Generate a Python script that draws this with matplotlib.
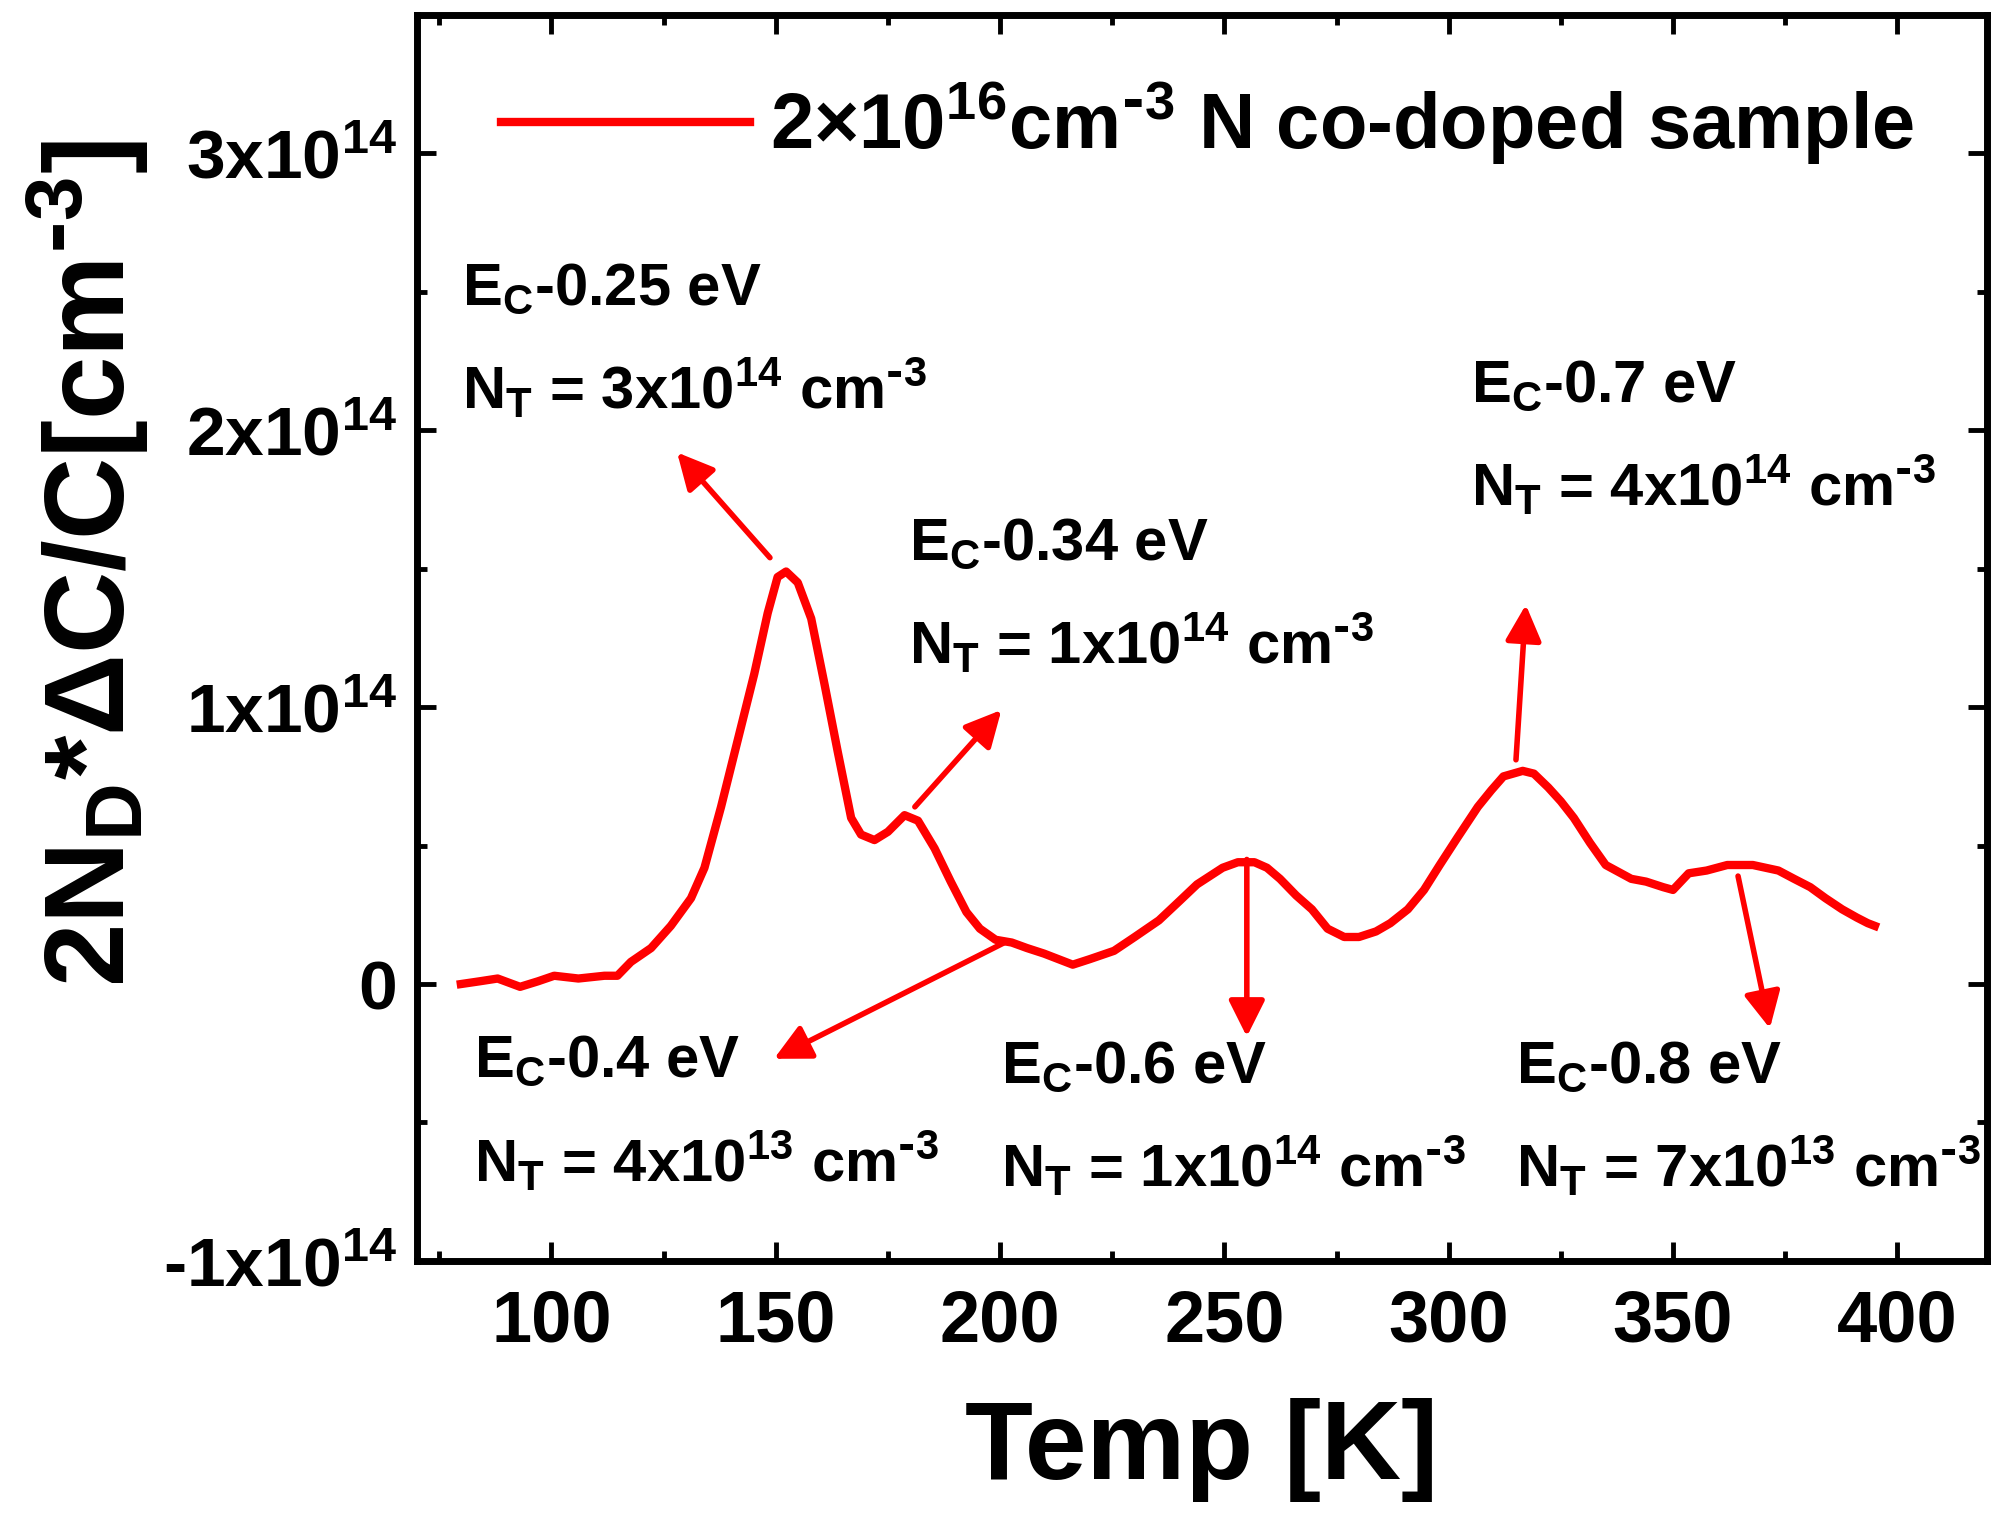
import numpy as np
import matplotlib
matplotlib.use('Agg')
import matplotlib.pyplot as plt
from matplotlib.ticker import MultipleLocator, FuncFormatter

plt.rcParams['font.family'] = ['Liberation Sans', 'DejaVu Sans']
plt.rcParams['font.weight'] = 'bold'
plt.rcParams['mathtext.default'] = 'regular'

# DLTS signal (temperature in K, signal in units of 1e14 cm^-3)
temp_K = [79.8, 84, 88, 93, 97, 100.6, 106, 111.8, 114.7, 117.7, 122.2, 126.6, 131.1,
          134.1, 137.8, 141.5, 145.2, 148.2, 150.4, 152.3, 154.9, 157.9, 160.9, 163.8,
          166.8, 169, 172, 175, 178.7, 181.7, 185.4, 189, 192.5, 195.5, 199, 202.6,
          206, 209.8, 213, 216.2, 220, 225.4, 230, 235.4, 240, 243.9, 249.6, 253,
          256.7, 259.5, 262.4, 266, 269.5, 273, 276.7, 280, 283.8, 287, 290.9, 294.5,
          298, 302, 306.5, 309.5, 312.2, 316.5, 319, 322.2, 325, 327.9, 331.5, 335,
          340.7, 344, 347.8, 350, 353.5, 357.5, 362.1, 367.8, 373.5, 377, 380.6, 384,
          387.7, 391, 393.4, 395]
signal_1e14 = [0.0, 0.01, 0.02, -0.01, 0.01, 0.03, 0.02, 0.03, 0.03, 0.08, 0.13, 0.21,
               0.31, 0.42, 0.64, 0.88, 1.12, 1.34, 1.47, 1.49, 1.45, 1.32, 1.08, 0.84,
               0.60, 0.54, 0.52, 0.55, 0.61, 0.59, 0.49, 0.37, 0.26, 0.20, 0.16, 0.15,
               0.13, 0.11, 0.09, 0.07, 0.09, 0.12, 0.17, 0.23, 0.30, 0.36, 0.42, 0.44,
               0.44, 0.42, 0.38, 0.32, 0.27, 0.20, 0.17, 0.17, 0.19, 0.22, 0.27, 0.34,
               0.43, 0.53, 0.64, 0.70, 0.75, 0.77, 0.76, 0.71, 0.66, 0.60, 0.51, 0.43,
               0.38, 0.37, 0.35, 0.34, 0.40, 0.41, 0.43, 0.43, 0.41, 0.38, 0.35, 0.31,
               0.27, 0.24, 0.22, 0.21]

legend_label = r'2×10$^{16}$cm$^{\text{-}3}$ N co-doped sample'

# trap labels: energy level and trap concentration
trap_level = ['E$_{C}$-0.25 eV', 'E$_{C}$-0.34 eV', 'E$_{C}$-0.4 eV',
              'E$_{C}$-0.6 eV', 'E$_{C}$-0.7 eV', 'E$_{C}$-0.8 eV']
trap_conc = [r'N$_{T}$ = 3x10$^{14}$ cm$^{\text{-}3}$', r'N$_{T}$ = 1x10$^{14}$ cm$^{\text{-}3}$',
             r'N$_{T}$ = 4x10$^{13}$ cm$^{\text{-}3}$', r'N$_{T}$ = 1x10$^{14}$ cm$^{\text{-}3}$',
             r'N$_{T}$ = 4x10$^{14}$ cm$^{\text{-}3}$', r'N$_{T}$ = 7x10$^{13}$ cm$^{\text{-}3}$']
# text anchor (x, y of first line), arrow tail and head, in data units (y in 1e14)
label_xy = [(80, 2.51), (179.7, 1.59), (82.8, -0.28), (200.3, -0.30), (305, 2.16), (315, -0.30)]
arrow_tail = [(148.7, 1.54), (181, 0.64), (201, 0.15), (255, 0.45), (315, 0.81), (364.5, 0.39)]
arrow_head = [(128, 1.92), (200.3, 0.99), (149.6, -0.27), (255, -0.19), (317.2, 1.37), (371.6, -0.16)]
line_gap = 0.36

fig = plt.figure(figsize=(20.14, 15.15), dpi=100)
ax = fig.add_axes([0.207, 0.1677, 0.7796, 0.8224])

scale = 1e14
ax.plot(temp_K, np.array(signal_1e14) * scale, color='red', lw=6,
        solid_joinstyle='round', label=legend_label)

for lvl, conc, (tx, ty), tail, head in zip(trap_level, trap_conc, label_xy, arrow_tail, arrow_head):
    ax.text(tx, ty * scale, lvl, fontsize=43, va='center', ha='left')
    ax.text(tx, (ty - line_gap) * scale, conc, fontsize=43, va='center', ha='left')
    ax.annotate('', xy=(head[0], head[1] * scale), xytext=(tail[0], tail[1] * scale),
                arrowprops=dict(arrowstyle='-|>', color='red', lw=4,
                                mutation_scale=55, shrinkA=0, shrinkB=0))

ax.set_xlim(70, 420)
ax.set_ylim(-1.0e14, 3.5e14)
ax.xaxis.set_major_locator(MultipleLocator(50))
ax.xaxis.set_minor_locator(MultipleLocator(25))
ax.yaxis.set_major_locator(MultipleLocator(1e14))
ax.yaxis.set_minor_locator(MultipleLocator(0.5e14))


def fmt_y(v, pos):
    if abs(v) < 1:
        return '0'
    return '%gx10$^{14}$' % (v / 1e14)


ax.yaxis.set_major_formatter(FuncFormatter(fmt_y))

for s in ax.spines.values():
    s.set_linewidth(5)
ax.tick_params(which='both', direction='in', top=True, right=True, width=3.5)
ax.tick_params(which='major', length=14)
ax.tick_params(which='minor', length=7)
ax.tick_params(axis='x', labelsize=52, pad=20)
ax.tick_params(axis='y', labelsize=50, pad=14)

ax.set_xlabel('Temp [K]', fontsize=80, fontweight='bold', labelpad=30)
ax.set_ylabel(r'2N$_{D}$*ΔC/C[cm$^{\text{-}3}$]', fontsize=82, fontweight='bold', va='center')
ax.yaxis.set_label_coords(-0.21, 0.56)

ax.legend(loc='center left', bbox_to_anchor=(0.0535, 0.913), frameon=False,
          fontsize=56, handlelength=3.2, handletextpad=0.26, borderpad=0, borderaxespad=0)

fig.savefig('out.png', dpi=100)
